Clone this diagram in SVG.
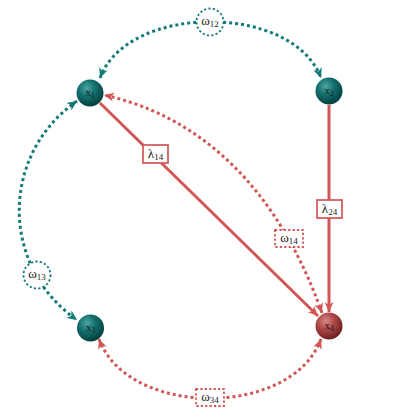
<svg xmlns="http://www.w3.org/2000/svg" width="420" height="420" viewBox="0 0 420 420">
<style>
.dt{fill:none;stroke-width:3;stroke-dasharray:3 3}
.teal{stroke:#127a78}
.red{stroke:#d25656}
.solid{fill:none;stroke:#d25656;stroke-width:3}
.lbl{font-family:"Liberation Serif","DejaVu Serif",serif;font-size:13px;fill:#222;text-anchor:middle}
.sub{font-size:9px}
.nl{font-family:"Liberation Serif","DejaVu Serif",serif;font-size:11px;fill:#1a1a1a;text-anchor:middle}
.nsub{font-size:7.5px}
.boxr{fill:#fff;stroke:#d25656;stroke-width:1.7}
.boxrd{fill:#fff;stroke:#d25656;stroke-width:1.8;stroke-dasharray:2.2 2.2}
.boxtd{fill:#fff;stroke:#127a78;stroke-width:1.8;stroke-dasharray:2.2 2.2}
</style>
<defs>
<radialGradient id="gt" cx="0.38" cy="0.32" r="0.7">
<stop offset="0" stop-color="#4fa5a3"/>
<stop offset="0.45" stop-color="#136f6d"/>
<stop offset="1" stop-color="#023f3e"/>
</radialGradient>
<radialGradient id="gr" cx="0.38" cy="0.32" r="0.7">
<stop offset="0" stop-color="#d98a8a"/>
<stop offset="0.45" stop-color="#ae4848"/>
<stop offset="1" stop-color="#6a1f1f"/>
</radialGradient>
<marker id="at" viewBox="0 0 10 10" refX="10" refY="5" markerWidth="10" markerHeight="10" markerUnits="userSpaceOnUse" orient="auto-start-reverse">
<path d="M0,0.5 L10,5 L0,9.5 L3,5 z" fill="#127a78"/>
</marker>
<marker id="ar" viewBox="0 0 10 10" refX="10" refY="5" markerWidth="10" markerHeight="10" markerUnits="userSpaceOnUse" orient="auto-start-reverse">
<path d="M0,0.5 L10,5 L0,9.5 L3,5 z" fill="#d25656"/>
</marker>
</defs>
<g id="connectors">
<path class="solid" d="M100,103 L318,316" marker-end="url(#ar)"/>
<path class="solid" d="M329,105 L329,312" marker-end="url(#ar)"/>
<path class="dt teal" d="M100,78 C128,3 293,3 321,78" marker-start="url(#at)" marker-end="url(#at)"/>
<path class="dt teal" d="M77,101 C0,155 0,266 77,320" marker-start="url(#at)" marker-end="url(#at)"/>
<path class="dt red" d="M99,339 C128,418 292,418 321,339" marker-start="url(#ar)" marker-end="url(#ar)"/>
<path class="dt red" d="M322,313 C298,245 240,125 104,95" marker-start="url(#ar)" marker-end="url(#ar)"/>
</g>
<g id="label-l14">
<rect class="boxr" x="143" y="145" width="25" height="18"/>
<text class="lbl" x="155.5" y="158">λ<tspan class="sub" dy="2">14</tspan></text>
</g>
<g id="label-l24">
<rect class="boxr" x="317" y="200" width="25" height="18"/>
<text class="lbl" x="329.5" y="213">λ<tspan class="sub" dy="2">24</tspan></text>
</g>
<g id="label-w14">
<rect class="boxrd" x="275" y="230" width="28" height="17"/>
<text class="lbl" x="289" y="242">ω<tspan class="sub" dy="2">14</tspan></text>
</g>
<g id="label-w34">
<rect class="boxrd" x="196" y="389" width="28" height="17"/>
<text class="lbl" x="210" y="401">ω<tspan class="sub" dy="2">34</tspan></text>
</g>
<g id="label-w12">
<circle class="boxtd" cx="210" cy="22" r="13.5"/>
<text class="lbl" x="210" y="25">ω<tspan class="sub" dy="2">12</tspan></text>
</g>
<g id="label-w13">
<circle class="boxtd" cx="37" cy="275" r="13.5"/>
<text class="lbl" x="37" y="278">ω<tspan class="sub" dy="2">13</tspan></text>
</g>
<g id="node-x1">
<circle cx="90" cy="93" r="13.5" fill="url(#gt)"/>
<text class="nl" x="90" y="96">x<tspan class="nsub" dy="2">1</tspan></text>
</g>
<g id="node-x2">
<circle cx="329" cy="91" r="13.5" fill="url(#gt)"/>
<text class="nl" x="329" y="94">x<tspan class="nsub" dy="2">2</tspan></text>
</g>
<g id="node-x3">
<circle cx="90.5" cy="328" r="13.5" fill="url(#gt)"/>
<text class="nl" x="90.5" y="331">x<tspan class="nsub" dy="2">3</tspan></text>
</g>
<g id="node-x4">
<circle cx="329" cy="326" r="13.5" fill="url(#gr)"/>
<text class="nl" x="329" y="329">x<tspan class="nsub" dy="2">4</tspan></text>
</g>
</svg>
